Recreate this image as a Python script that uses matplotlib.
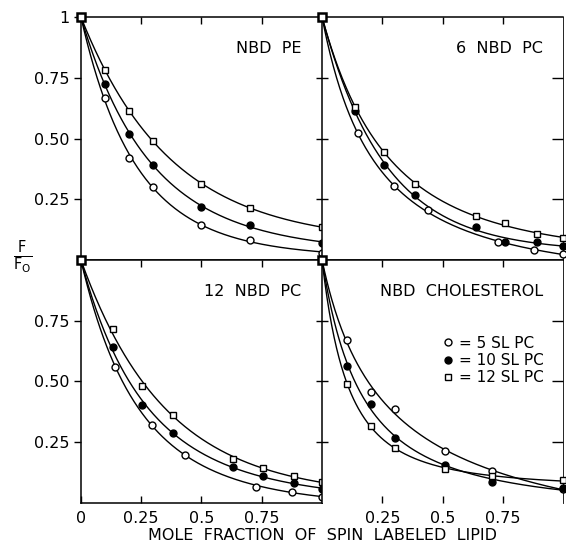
import numpy as np
import matplotlib
matplotlib.use("Agg")
from matplotlib import pyplot as plt
from matplotlib.lines import Line2D

# quenching data: F/Fo vs mole fraction of spin labeled lipid
# (every series starts at F/Fo = 1 for x = 0)
pe_x5 = [0.10, 0.20, 0.30, 0.50, 0.70, 1.00]
pe_y5 = [0.667, 0.420, 0.300, 0.144, 0.083, 0.028]
pe_x10 = [0.10, 0.20, 0.30, 0.50, 0.70, 1.00]
pe_y10 = [0.724, 0.520, 0.390, 0.220, 0.144, 0.070]
pe_x12 = [0.10, 0.20, 0.30, 0.50, 0.70, 1.00]
pe_y12 = [0.782, 0.613, 0.490, 0.313, 0.214, 0.136]

pc6_x5 = [0.148, 0.297, 0.438, 0.729, 0.877, 1.00]
pc6_y5 = [0.521, 0.303, 0.207, 0.073, 0.042, 0.025]
pc6_x10 = [0.138, 0.256, 0.386, 0.639, 0.759, 0.892, 1.00]
pc6_y10 = [0.612, 0.392, 0.269, 0.134, 0.073, 0.073, 0.059]
pc6_x12 = [0.138, 0.256, 0.386, 0.639, 0.759, 0.892, 1.00]
pc6_y12 = [0.631, 0.443, 0.313, 0.182, 0.151, 0.107, 0.089]

pc12_x5 = [0.142, 0.295, 0.433, 0.725, 0.874, 1.00]
pc12_y5 = [0.561, 0.319, 0.198, 0.067, 0.047, 0.026]
pc12_x10 = [0.132, 0.253, 0.382, 0.632, 0.755, 0.885, 1.00]
pc12_y10 = [0.643, 0.402, 0.290, 0.150, 0.109, 0.081, 0.057]
pc12_x12 = [0.132, 0.253, 0.382, 0.632, 0.755, 0.885, 1.00]
pc12_y12 = [0.718, 0.483, 0.361, 0.181, 0.146, 0.109, 0.088]

chol_x5 = [0.104, 0.203, 0.304, 0.508, 0.705, 1.00]
chol_y5 = [0.669, 0.457, 0.386, 0.215, 0.132, 0.057]
chol_x10 = [0.104, 0.203, 0.304, 0.508, 0.705, 1.00]
chol_y10 = [0.562, 0.406, 0.267, 0.157, 0.086, 0.060]
chol_x12 = [0.104, 0.203, 0.304, 0.508, 0.705, 1.00]
chol_y12 = [0.489, 0.315, 0.226, 0.140, 0.109, 0.095]

panels = [
    ("NBD PE", (pe_x5, pe_y5), (pe_x10, pe_y10), (pe_x12, pe_y12)),
    ("6 NBD PC", (pc6_x5, pc6_y5), (pc6_x10, pc6_y10), (pc6_x12, pc6_y12)),
    ("12 NBD PC", (pc12_x5, pc12_y5), (pc12_x10, pc12_y10), (pc12_x12, pc12_y12)),
    ("NBD CHOLESTEROL", (chol_x5, chol_y5), (chol_x10, chol_y10), (chol_x12, chol_y12)),
]
legend_labels = ["= 5 SL PC", "= 10 SL PC", "= 12 SL PC"]


def fit_curve(x, y):
    # y = c + (1-c) * (1 + k x / p)^-p, least squares over a k/p grid
    xs = np.concatenate(([0.0], x))
    ys = np.concatenate(([1.0], y))
    best = None
    for p in [0.7, 1.0, 1.5, 2.0, 3.0, 5.0, 10.0, 50.0]:
        for k in np.linspace(0.3, 25, 800):
            e = (1 + k * xs / p) ** (-p)
            A = 1 - e
            c = np.dot(A, ys - e) / np.dot(A, A)
            res = np.sum((c + (1 - c) * e - ys) ** 2)
            if best is None or res < best[0]:
                best = (res, p, k, c)
    _, p, k, c = best
    xf = np.linspace(0, 1, 300)
    return xf, c + (1 - c) * (1 + k * xf / p) ** (-p)


plt.rcParams['font.family'] = 'DejaVu Sans'
fig = plt.figure(figsize=(5.66, 5.5), dpi=100)
gs = fig.add_gridspec(2, 2, left=0.143, right=0.995, top=0.969, bottom=0.0855,
                      wspace=0, hspace=0)

styles = [
    dict(marker='o', mfc='white', mec='black', ms=5),
    dict(marker='o', mfc='black', mec='black', ms=5),
    dict(marker='s', mfc='white', mec='black', ms=5),
]

for idx, (title, *series) in enumerate(panels):
    r, c = divmod(idx, 2)
    ax = fig.add_subplot(gs[r, c])
    for (x, y), st in zip(series, styles):
        xf, yf = fit_curve(np.array(x), np.array(y))
        ax.plot(xf, yf, color='black', lw=1.0, zorder=2)
        ax.plot(x, y, ls='none', mew=1.0, zorder=3, clip_on=False, **st)
    ax.plot([0], [1], ls='none', marker='s', mfc='white', mec='black', ms=6, mew=1.8,
            zorder=4, clip_on=False)

    ax.set_xlim(0, 1)
    ax.set_ylim(0, 1)
    ax.set_xticks([0.25, 0.5, 0.75])
    ax.set_yticks([0.25, 0.5, 0.75])
    for sp in ax.spines.values():
        sp.set_linewidth(1.1)
    ax.spines['right'].set_linewidth(0.6)

    ax.tick_params(axis='both', which='both', direction='in', length=5, width=1.0,
                   top=True, bottom=True, left=True, right=True,
                   labelleft=False, labelbottom=False, labelsize=11.5, colors='black')
    if c == 0:
        # outer left axis: ticks point outwards, no ticks on the shared edge
        ax.tick_params(axis='y', direction='out', right=False, labelleft=True)
        if r == 0:
            ax.set_yticks([0.25, 0.5, 0.75, 1.0])
            ax.set_yticklabels(["0.25", "0.50", "0.75", "1"])
        else:
            ax.set_yticklabels(["0.25", "0.50", "0.75"])
    else:
        # shared vertical edge: ticks cross the line
        ax.tick_params(axis='y', which='both', left=True)
        ax.yaxis.set_tick_params(direction='inout', length=8)
        ax.yaxis.set_tick_params(which='major', right=True)
        for t in ax.yaxis.get_major_ticks():
            t.tick2line.set_marker(matplotlib.lines.TICKLEFT)
    if r == 1:
        ax.tick_params(axis='x', labelbottom=True, pad=6)
        if c == 0:
            ax.set_xticks([0, 0.25, 0.5, 0.75])
            ax.set_xticklabels(["0", "0.25", "0.5", "0.75"])
        else:
            ax.spines['bottom'].set_visible(False)
            ax.set_xticklabels(["0.25", "0.5", "0.75"])
    else:
        ax.tick_params(axis='x', bottom=False)

    ax.text(0.915, 0.87, title.replace(" ", "  "), transform=ax.transAxes,
            ha='right', va='center', fontsize=11.5)

    if idx == 3:
        handles = [Line2D([], [], ls='none', mew=1.0, **st) for st in styles]
        ax.legend(handles, legend_labels, loc='upper right', bbox_to_anchor=(0.95, 0.72),
                  frameon=False, handlelength=0.6, handletextpad=0.4, labelspacing=0.15,
                  borderpad=0, fontsize=11)

fig.text(0.04, 0.531, r'$\frac{\mathrm{F}}{\mathrm{F_O}}$', fontsize=15,
         ha='center', va='center')
fig.text(0.57, 0.027, "MOLE  FRACTION  OF  SPIN  LABELED  LIPID", fontsize=11.5,
         ha='center', va='center')

fig.savefig("out.png", dpi=100)
